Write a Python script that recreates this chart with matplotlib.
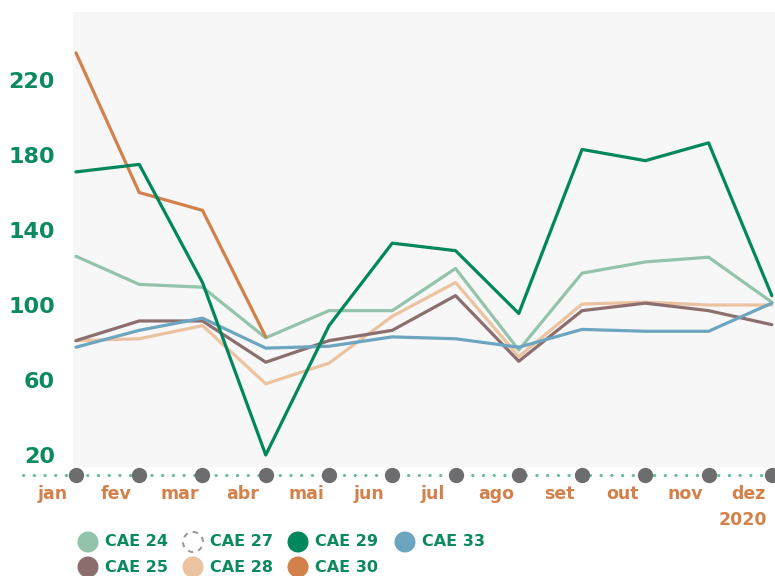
import matplotlib
matplotlib.use("Agg")
import matplotlib.pyplot as plt
import numpy as np
from matplotlib.patches import Circle
from matplotlib.transforms import ScaledTranslation

plt.rcParams['font.family'] = ['DejaVu Sans']

months = ['jan', 'fev', 'mar', 'abr', 'mai', 'jun', 'jul', 'ago', 'set', 'out', 'nov', 'dez']
year_label = '2020'

cae24 = [126, 111, 109.5, 82.5, 97, 97, 119.5, 76, 117, 123, 125.5, 101.5]
cae25 = [81, 91.5, 91.5, 69.5, 81, 86.5, 105, 70, 97, 101, 97, 89.5]
cae28 = [81, 82, 89, 58, 69, 94, 112, 72.5, 100.5, 101.5, 100, 100]
cae29 = [171, 175, 112, 20, 89, 133, 129, 95.5, 183, 177, 186.5, 105]
cae30 = [234.5, 160, 150.5, 83]
cae33 = [77.5, 86.5, 93, 77, 78, 83, 82, 77.5, 87, 86, 86, 101]

legend_names = ['CAE 24', 'CAE 27', 'CAE 29', 'CAE 33', 'CAE 25', 'CAE 28', 'CAE 30']

c24 = '#93c4ab'
c25 = '#8c6e6e'
c27 = '#9a9a9a'
c28 = '#ebc3a1'
c29 = '#00875c'
c30 = '#d3804b'
c33 = '#6ca5c0'
green_txt = '#0b8a5e'
orange_txt = '#d3804b'

fig = plt.figure(figsize=(7.75, 5.76), dpi=100)
ax = fig.add_axes([73 / 775, 1 - 467 / 576, 702 / 775, 455 / 576])
ax.set_facecolor('#f7f7f7')

x = np.arange(len(months))
lw = 2.3
kw = dict(solid_joinstyle='round', solid_capstyle='round')
ax.plot(x, cae28, color=c28, lw=lw, zorder=2, **kw)
ax.plot(x, cae24, color=c24, lw=lw, zorder=3, **kw)
ax.plot(x, cae25, color=c25, lw=lw, zorder=4, **kw)
ax.plot(x, cae33, color=c33, lw=lw, zorder=5, **kw)
ax.plot(x[:len(cae30)], cae30, color=c30, lw=lw, zorder=6, **kw)
ax.plot(x, cae29, color=c29, lw=lw, zorder=7, **kw)

ax.set_xlim(-0.047, 11.05)
ax.set_ylim(13.6, 256.3)

for s in ax.spines.values():
    s.set_visible(False)

ax.set_yticks([20, 60, 100, 140, 180, 220])
ax.tick_params(axis='y', length=0, pad=13, labelsize=16, labelcolor=green_txt)
for lab in ax.get_yticklabels():
    lab.set_fontweight('bold')

ax.set_xticks(x)
ax.set_xticklabels(months)
ax.tick_params(axis='x', length=0, pad=13, labelsize=12.5, labelcolor=orange_txt)
off = ScaledTranslation(-0.23, 0, fig.dpi_scale_trans)
for lab in ax.get_xticklabels():
    lab.set_fontweight('bold')
    lab.set_transform(lab.get_transform() + off)

# dotted baseline with month dots
tr = ax.get_xaxis_transform()
ax.plot([-0.83, 11.05], [-0.0176, -0.0176], transform=tr, color='#5fbf95',
        lw=2.2, linestyle=(0, (0.1, 3.4)), dash_capstyle='round', clip_on=False, zorder=1)
ax.plot(x, [-0.0176] * len(x), transform=tr, linestyle='none', marker='o',
        ms=10, color='#6d6d70', clip_on=False, zorder=8)

fig.text(767 / 775, 1 - 520 / 576, year_label, ha='right', va='center',
         fontsize=12.5, fontweight='bold', color=orange_txt)

# legend
lax = fig.add_axes([0, 0, 1, 1], zorder=-1)
lax.set_xlim(0, 775)
lax.set_ylim(576, 0)
lax.axis('off')
leg_colors = [c24, None, c29, c33, c25, c28, c30]
col_x = [88, 193, 298, 405]
row_y = [542, 567]
for i, (name, col) in enumerate(zip(legend_names, leg_colors)):
    cx = col_x[i % 4]
    cy = row_y[i // 4]
    if col is None:
        lax.add_patch(Circle((cx, cy), 10, facecolor='none', edgecolor=c27,
                             linestyle=(0, (2.5, 2.5)), lw=1.5))
    else:
        lax.add_patch(Circle((cx, cy), 10.5, facecolor=col, edgecolor='none'))
    lax.text(cx + 17, cy, name, ha='left', va='center', fontsize=11.5,
             fontweight='bold', color=green_txt)

fig.savefig('out.png', dpi=100)
